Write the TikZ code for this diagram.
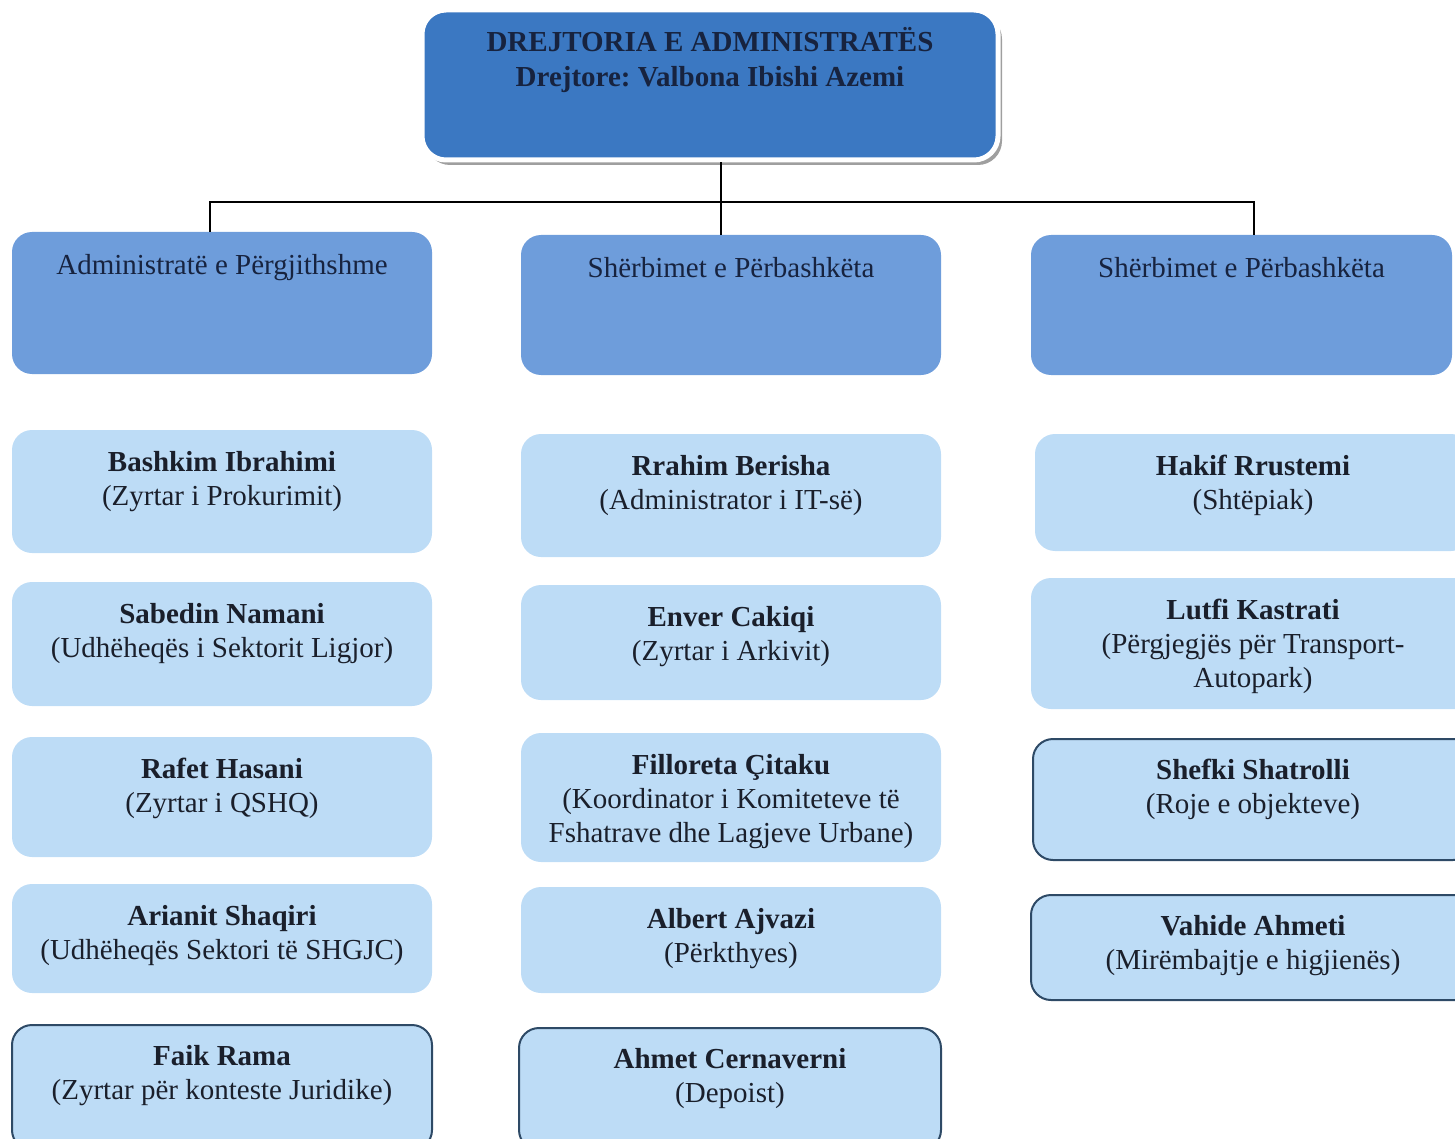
\documentclass[tikz,border=0pt]{standalone}
\usepackage{fontspec}
\setmainfont{Liberation Serif}
\usepackage{xcolor}
\usepackage{tikz}
\usetikzlibrary{shapes, calc, positioning, fit, shadows}
\frenchspacing

\definecolor{headblue}{HTML}{3B78C2}
\definecolor{unitblue}{HTML}{6E9DDB}
\definecolor{staffblue}{HTML}{BDDCF6}
\definecolor{edgeblue}{HTML}{2E4A66}
\definecolor{inkdark}{HTML}{1A1F2B}
\definecolor{headink}{HTML}{17233F}

\begin{document}
\begin{tikzpicture}[x=1pt, y=-1pt, line/.style = {line width=2pt}, font=\fontsize{29}{34}\selectfont]
		\tikzset{box/.style={rectangle,rounded corners=20pt,inner sep=0pt}}
		\tikzset{head/.style={box,rounded corners=24pt,fill=headblue,draw=white,line width=5pt,drop shadow={shadow xshift=4pt,shadow yshift=-5pt,fill=gray!75,opacity=1}}}
		\tikzset{unit/.style={box,fill=unitblue}}
		\tikzset{staff/.style={box,fill=staffblue}}
		\tikzset{staffb/.style={staff,draw=edgeblue,line width=2pt}}
		\tikzset{txt/.style={inner sep=0pt,align=center,text=inkdark}}

		\useasboundingbox (0,0) rectangle (1455,1139);

		% Directorate
		\node[fit={(422,10) (998,160)}, head] (dir) {};
		\node[txt, text=headink, font=\fontsize{29}{35}\selectfont\bfseries, below=20pt of dir.north] (dirtxt) {DREJTORIA E ADMINISTRATËS\\Drejtore: Valbona Ibishi Azemi};

		% Units
		\node[fit={(12,232) (432,374)}, unit] (admin) {};
		\node[fit={(521,235) (941,375)}, unit] (sherbone) {};
		\node[fit={(1031,235) (1452,375)}, unit] (sherbtwo) {};

		\node[txt, text=headink, below=22pt of admin.north] (admintxt) {Administratë e Përgjithshme};
		\node[txt, text=headink, below=22pt of sherbone.north] (sherbonetxt) {Shërbimet e Përbashkëta};
		\node[txt, text=headink, below=22pt of sherbtwo.north] (sherbtwotxt) {Shërbimet e Përbashkëta};

		% Staff, left
		\node[fit={(12,430) (432,553)}, staff] (bashkim) {};
		\node[fit={(12,582) (432,706)}, staff] (sabedin) {};
		\node[fit={(12,737) (432,857)}, staff] (rafet) {};
		\node[fit={(12,884) (432,993)}, staff] (arianit) {};
		\node[fit={(12,1025) (432,1150)}, staffb] (faik) {};

		\node[txt, below=21pt of bashkim.north] (bashkimtxt) {\textbf{Bashkim Ibrahimi}\\(Zyrtar i Prokurimit)};
		\node[txt, below=21pt of sabedin.north] (sabedintxt) {\textbf{Sabedin Namani}\\(Udhëheqës i Sektorit Ligjor)};
		\node[txt, below=21pt of rafet.north] (rafettxt) {\textbf{Rafet Hasani}\\(Zyrtar i QSHQ)};
		\node[txt, below=21pt of arianit.north] (arianittxt) {\textbf{Arianit Shaqiri}\\(Udhëheqës Sektori të SHGJC)};
		\node[txt, below=21pt of faik.north] (faiktxt) {\textbf{Faik Rama}\\(Zyrtar për konteste Juridike)};

		% Staff, middle
		\node[fit={(521,434) (941,557)}, staff] (rrahim) {};
		\node[fit={(521,585) (941,700)}, staff] (enver) {};
		\node[fit={(521,733) (941,862)}, staff] (filloreta) {};
		\node[fit={(521,887) (941,993)}, staff] (albert) {};
		\node[fit={(519,1028) (941,1150)}, staffb] (ahmet) {};

		\node[txt, below=21pt of rrahim.north] (rrahimtxt) {\textbf{Rrahim Berisha}\\(Administrator i IT-së)};
		\node[txt, below=21pt of enver.north] (envertxt) {\textbf{Enver Cakiqi}\\(Zyrtar i Arkivit)};
		\node[txt, below=21pt of filloreta.north] (filloretatxt) {\textbf{Filloreta Çitaku}\\(Koordinator i Komiteteve të\\Fshatrave dhe Lagjeve Urbane)};
		\node[txt, below=21pt of albert.north] (alberttxt) {\textbf{Albert Ajvazi}\\(Përkthyes)};
		\node[txt, below=21pt of ahmet.north] (ahmettxt) {\textbf{Ahmet Cernaverni}\\(Depoist)};

		% Staff, right
		\node[fit={(1035,434) (1471,551)}, staff] (hakif) {};
		\node[fit={(1031,578) (1475,709)}, staff] (lutfi) {};
		\node[fit={(1033,739) (1473,860)}, staffb] (shefki) {};
		\node[fit={(1031,895) (1475,1000)}, staffb] (vahide) {};

		\node[txt, below=21pt of hakif.north] (hakiftxt) {\textbf{Hakif Rrustemi}\\(Shtëpiak)};
		\node[txt, below=21pt of lutfi.north] (lutfitxt) {\textbf{Lutfi Kastrati}\\(Përgjegjës për Transport-\\Autopark)};
		\node[txt, below=21pt of shefki.north] (shefkitxt) {\textbf{Shefki Shatrolli}\\(Roje e objekteve)};
		\node[txt, below=21pt of vahide.north] (vahidetxt) {\textbf{Vahide Ahmeti}\\(Mirëmbajtje e higjienës)};

		% Lines
		\coordinate (fork) at (721,202);

		\draw [line] (dir.south -| fork) -- (fork);
		\draw [line] ([xshift=-12pt]admin.north) |- (fork) -| ([xshift=12pt]sherbtwo.north);
		\draw [line] (fork) -- (sherbone.north -| fork);

\end{tikzpicture}
\end{document}
